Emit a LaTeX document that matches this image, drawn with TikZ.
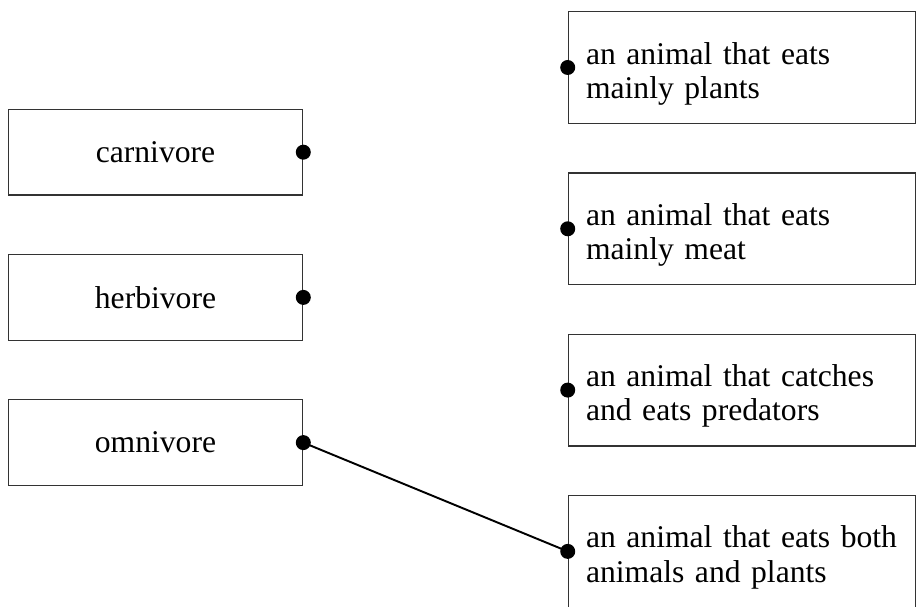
\documentclass[tikz,border=0pt]{standalone}
\usepackage{fontspec}
\setmainfont{Liberation Serif}
\usetikzlibrary{positioning}

\begin{document}
\begin{tikzpicture}[x=0.02cm, y=-0.02cm]
        % Define styles
        \tikzset{
            term/.style={draw=black!80, line width=0.7pt, minimum width=5.888cm, minimum height=1.714cm, inner sep=0pt, font=\fontsize{18}{19.4}\selectfont},
            meaning/.style={draw=black!80, line width=0.7pt, minimum width=6.948cm, minimum height=2.234cm, text width=6.24cm, text height=0.68cm, align=left, inner xsep=0.354cm, inner ysep=0pt, font=\fontsize{18}{19.4}\selectfont},
            dot/.style={circle, fill=black, inner sep=0pt, minimum size=0.3cm},
            match/.style={line width=1.1pt}
        }
        % Fix the picture size
        \useasboundingbox (0,0) rectangle (918,607);
        % Terms on the left
        \node[term] (carnivore) at (155.5,152.2) {carnivore};
        \node[term, below=1.166cm of carnivore] (herbivore) {herbivore};
        \node[term, below=1.166cm of herbivore] (omnivore) {omnivore};
        % Meanings on the right
        \node[meaning] (plants) at (742,67.5) {an animal that eats\\mainly plants};
        \node[meaning, below=0.968cm of plants] (meat) {an animal that eats\\mainly meat};
        \node[meaning, below=0.968cm of meat] (predators) {an animal that catches\\and eats predators};
        \node[meaning, below=0.968cm of predators] (both) {an animal that eats both\\animals and plants};
        % The one match drawn so far
        \draw[match] (omnivore.east) -- (both.west);
        % Dots on the box edges
        \node[dot] (carnivore-dot) at (carnivore.east) {};
        \node[dot] (herbivore-dot) at (herbivore.east) {};
        \node[dot] (omnivore-dot) at (omnivore.east) {};
        \node[dot] (plants-dot) at (plants.west) {};
        \node[dot] (meat-dot) at (meat.west) {};
        \node[dot] (predators-dot) at (predators.west) {};
        \node[dot] (both-dot) at (both.west) {};
    \end{tikzpicture}
\end{document}
